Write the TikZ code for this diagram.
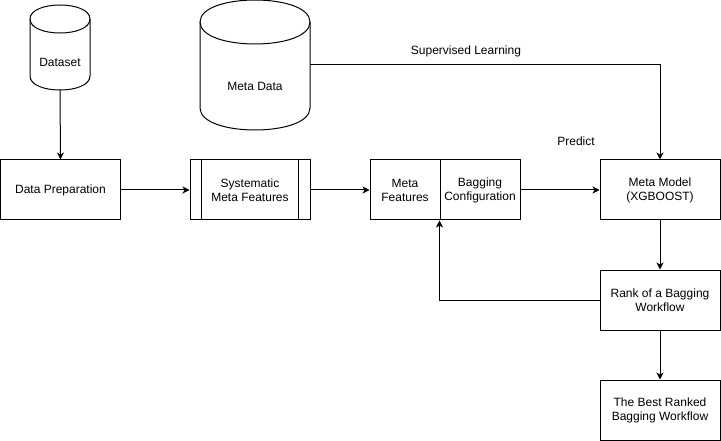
\documentclass[tikz,border=0pt]{standalone}
\usepackage{fontspec}
\setmainfont{Liberation Sans}
\usetikzlibrary{arrows.meta}
\begin{document}
\begin{tikzpicture}[x=1pt,y=-1pt,
  every node/.style={font=\fontsize{12}{14}\selectfont, inner sep=0pt, align=center},
  box/.style={draw, line width=1pt, minimum width=120pt, minimum height=60pt},
  ghost/.style={inner sep=0pt},
  line/.style={line width=1pt},
  arr/.style={line width=1pt, -{Stealth[length=7pt,width=7pt,inset=2pt]}},
  lbl/.style={inner sep=0pt}
]
\useasboundingbox (0,0) rectangle (721,441);

% Dataset cylinder (x 30-90, y 5-90, dy 14)
\node[ghost, minimum width=60pt, minimum height=85pt] (ds) at (60,47.5) {};
\draw[line] (30,19) .. controls (30,0.33) and (90,0.33) .. (90,19) -- (90,76)
  .. controls (90,94.67) and (30,94.67) .. (30,76) -- cycle;
\draw[line] (30,19) .. controls (30,37.67) and (90,37.67) .. (90,19);
\node (dstext) at (60,62) {Dataset};

% Meta Data cylinder (x 200-310, y 0-130, dy 22)
\node[ghost, minimum width=110pt, minimum height=130pt] (md) at (255,65) {};
\draw[line] (200,22) .. controls (200,-7.33) and (310,-7.33) .. (310,22) -- (310,108)
  .. controls (310,137.33) and (200,137.33) .. (200,108) -- cycle;
\draw[line] (200,22) .. controls (200,51.33) and (310,51.33) .. (310,22);
\node (mdtext) at (255,86) {Meta Data};

% Boxes
\node[box] (prep) at (60.5,190) {Data Preparation};
\node[box] (sys) at (250,190) {Systematic\\Meta Features};
\draw[line] ([xshift=12pt]sys.north west) -- ([xshift=12pt]sys.south west);
\draw[line] ([xshift=-12pt]sys.north east) -- ([xshift=-12pt]sys.south east);
\node[box, minimum width=70pt] (mf) at (405,190) {Meta\\Features};
\node[box, minimum width=80pt] (bc) at (480,190) {Bagging\\Configuration};
\node[box] (mm) at (660,190) {Meta Model\\(XGBOOST)};
\node[box] (rank) at (660,300) {Rank of a Bagging\\Workflow};
\node[box] (best) at (660,410) {The Best Ranked\\Bagging Workflow};

% Labels
\node[lbl] (sl) at (466,51) {Supervised Learning};
\node[lbl] (pr) at (576,141) {Predict};

% Connectors
\draw[arr] (ds.south) -- (prep.north);
\draw[arr] (prep.east) -- (sys.west);
\draw[arr] (sys.east) -- (mf.west);
\draw[arr] (bc.east) -- (mm.west);
\draw[arr] (md.east) -| (mm.north);
\draw[arr] (mm.south) -- (rank.north);
\draw[arr] (rank.south) -- (best.north);
\draw[arr] (rank.west) -| (bc.south west);
\end{tikzpicture}
\end{document}
